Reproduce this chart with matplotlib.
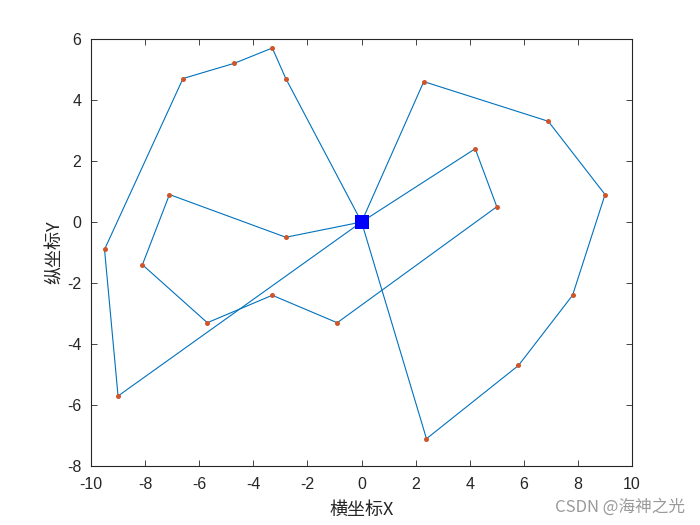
import matplotlib
matplotlib.use("Agg")
import matplotlib.pyplot as plt

plt.rcParams['font.family'] = ['Liberation Sans', 'Noto Sans CJK SC', 'DejaVu Sans']
plt.rcParams['axes.unicode_minus'] = False

depot = (0.0, 0.0)

# three vehicle routes, each starting and ending at the depot
route1_x = [0, 2.3, 6.9, 9.0, 7.8, 5.8, 2.4, 0]
route1_y = [0, 4.6, 3.3, 0.9, -2.4, -4.7, -7.1, 0]

route2_x = [0, -2.8, -3.3, -4.7, -6.6, -9.5, -9.0, 0]
route2_y = [0, 4.7, 5.7, 5.2, 4.7, -0.9, -5.7, 0]

route3_x = [0, 4.2, 5.0, -0.9, -3.3, -5.7, -8.1, -7.1, -2.8, 0]
route3_y = [0, 2.4, 0.5, -3.3, -2.4, -3.3, -1.4, 0.9, -0.5, 0]

routes = [(route1_x, route1_y), (route2_x, route2_y), (route3_x, route3_y)]

line_c = '#0072BD'
dot_c = '#D0552A'
axis_c = '#262626'

fig = plt.figure(figsize=(7, 5.25), dpi=100)
ax = fig.add_axes([0.13, 0.112, 0.773, 0.814])

for rx, ry in routes:
    ax.plot(rx, ry, color=line_c, linewidth=0.8, zorder=2)
for rx, ry in routes:
    ax.plot(rx[1:-1], ry[1:-1], 'o', color=dot_c, markersize=3.6,
            markeredgewidth=0, zorder=3)
ax.plot(depot[0], depot[1], 's', color='#0000FF', markersize=10.5,
        markeredgewidth=0, zorder=4)

ax.set_xlim(-10, 10)
ax.set_ylim(-8, 6)
ax.set_xticks(range(-10, 11, 2))
ax.set_yticks(range(-8, 7, 2))
ax.tick_params(direction='in', top=True, right=True, length=4,
               width=0.6, colors=axis_c, labelsize=11.5)
ax.tick_params(axis='x', pad=8)
ax.tick_params(axis='y', pad=7)
for s in ax.spines.values():
    s.set_color(axis_c)
    s.set_linewidth(0.8)

ax.set_xlabel('横坐标X', fontsize=13, color=axis_c, labelpad=6,
              family=['Noto Sans CJK SC', 'DejaVu Sans'])
ax.set_ylabel('纵坐标Y', fontsize=13, color=axis_c, labelpad=2,
              family=['Noto Sans CJK SC', 'DejaVu Sans'])

fig.text(0.978, 0.018, 'CSDN @海神之光', ha='right', va='bottom',
         fontsize=12, color='#9a9a9a',
         family=['Noto Sans CJK SC', 'DejaVu Sans'])

fig.savefig('out.png', dpi=100)
